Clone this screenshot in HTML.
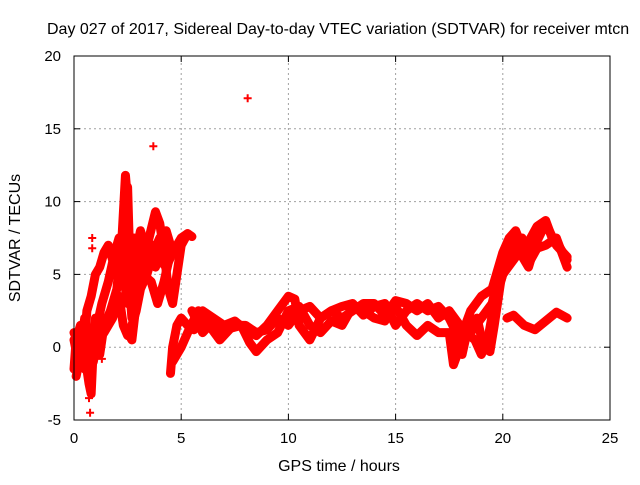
<!DOCTYPE html>
<html><head><meta charset="utf-8"><style>
body{margin:0;background:#fff;}
svg text{font-family:"Liberation Sans",sans-serif;font-size:15px;fill:#000;}
</style></head><body>
<svg id="chart" width="640" height="480">
<rect width="640" height="480" fill="#fff"/>
<text x="47" y="34" style="font-size:16px">Day 027 of 2017, Sidereal Day-to-day VTEC variation (SDTVAR) for receiver mtcn</text>
<g id="grid"></g><g id="ticks"></g><g id="data"></g>
<rect x="74" y="56" width="536" height="364" fill="none" stroke="#000" stroke-width="1"/>
<text x="339" y="471" text-anchor="middle" style="font-size:16px">GPS time / hours</text>
<text transform="translate(20,238) rotate(-90)" text-anchor="middle" style="font-size:16px">SDTVAR / TECUs</text>
</svg>
<script>
const xTicks=[0,5,10,15,20,25];
const yTicks=[-5,0,5,10,15,20];
const trackA=[[0,-1.5],[0.1,0.5],[0.3,1.5],[0.5,0.5],[0.6,2.5],[0.8,3.5],[1.0,5.0],[1.2,5.5],[1.4,6.5],[1.6,7.0],[1.8,6.0],[2.0,5.5],[2.2,6.5],[2.4,11.8],[2.5,10],[2.6,4],[2.7,2],[2.8,3],[3.0,4.5],[3.2,6],[3.5,7.5],[3.8,9.3],[4.0,8.5],[4.2,6.5],[4.4,4.0],[4.6,3.0],[4.8,5],[5.0,7],[5.3,7.8],[5.5,7.6]];
const trackB=[[0,0.5],[0.2,-1],[0.4,1],[0.6,-1.5],[0.7,-2.5],[0.8,-3.2],[0.9,0],[1.0,2],[1.2,-0.5],[1.4,1.5],[1.7,2.5],[2.0,4],[2.2,7],[2.4,9],[2.5,11],[2.6,6],[2.8,7.5],[3.2,5],[3.6,4.5],[3.9,3],[4.2,4.5],[4.5,6.5]];
const trackC=[[2.5,1],[2.7,0.5],[2.9,3],[3.2,5.5],[3.4,6.5],[3.7,7],[4.0,6],[4.3,5.5],[4.6,6.5],[5.0,7.5],[5.3,7.8]];
const trackH=[[0,1],[0.3,0],[0.5,2],[0.7,0.5],[1.0,1],[1.3,3],[1.6,4.5],[1.9,6.5],[2.1,7.5],[2.3,5],[2.5,3],[2.7,5],[2.9,6.5],[3.1,8],[3.3,7],[3.5,6],[3.8,5.5],[4.1,7],[4.4,6]];
const trackI=[[0.1,-2],[0.3,-0.5],[0.5,-1.5],[0.6,0],[0.9,-1],[1.1,0.5],[1.4,1],[1.8,2],[2.1,3.5],[2.3,1.5],[2.5,0.8],[2.7,1.5],[2.9,2.5],[3.1,4],[3.4,5],[3.7,6.5],[4.0,7.5],[4.3,8],[4.5,7]];
const trackD=[[4.5,-1.8],[4.6,0],[4.8,1.5],[5.0,2.0],[5.3,1.5],[5.6,1.2],[6.0,2.5],[6.5,2.0],[7,1.5],[7.5,1.8],[8,1.2],[8.5,0.8],[9,1.5],[9.5,2.5],[10,3.5],[10.3,3.3],[10.5,1.5],[11,0.5],[11.5,2],[12,2.5],[12.5,2.8],[13,3.0],[13.5,2.2],[14,2.8],[14.5,3.0],[15,1.5],[15.5,2.5],[16,3],[16.5,2.5],[17,2.8],[17.5,2.0],[18,0.5],[18.5,2.5],[19,3.5],[19.5,4],[20,6.5],[20.3,7.5],[20.6,8],[21,6.5],[21.3,7.5],[21.6,8.3],[22,8.7],[22.3,7.5],[22.6,7],[23,6]];
const trackE=[[4.6,-1],[5,0],[5.3,1],[5.8,2.5],[6.3,1.5],[6.8,0.5],[7.3,1.3],[7.8,1.5],[8.2,0.3],[8.5,-0.3],[9,0.5],[9.5,1],[10,2.5],[10.5,2.8],[11,1.5],[11.5,1],[12,1.8],[12.5,1.5],[13,2.8],[13.5,2.5],[14,2.0],[14.5,1.8],[15,2.8],[15.5,1.5],[16,0.8],[16.5,1.5],[17,1.0],[17.5,1.0],[17.7,-1.2],[18,0],[18.3,1.0],[18.7,0.5],[19,-0.5],[19.3,0.5],[19.6,3],[20,5],[20.5,6],[21,7],[21.3,6],[21.6,6.8],[22,7],[22.5,7.5],[23,5.5]];
const trackF=[[5.5,2.5],[6,1.0],[6.5,1.8],[7,1.0],[7.5,1.5],[8,1.5],[8.5,1.0],[9,1.2],[9.5,2],[10,1.5],[10.5,2.5],[11,2.8],[11.5,2.0],[12,2.5],[12.5,2.0],[13,2.5],[13.5,3.0],[14,3.0],[14.5,2.2],[15,3.2],[15.5,3.0],[16,2.5],[16.5,3.0],[17,2.0],[17.5,2.5],[18,1.5],[18.5,1.0],[19,2.0],[19.5,3.0],[20,6],[20.4,7.5],[20.8,6.5],[21.2,5.5],[21.5,7],[22,8.5],[22.5,7.0],[23,6.2]];
const trackJ=[[17.5,2.5],[17.8,1],[18.1,-0.5],[18.4,1.5],[18.8,2],[19.1,0],[19.4,-0.3],[19.6,1.5],[19.9,4.5],[20.2,6],[20.6,7],[20.9,7.5]];
const trackG=[[20.2,2],[20.5,2.2],[21,1.5],[21.5,1.2],[22,1.8],[22.5,2.4],[23,2.0]];
const isolated=[[8.1,17.1],[3.7,13.8],[0.75,-4.5],[0.85,7.5],[0.85,6.8],[1.3,-0.8],[0.7,-3.5]];
const tracks=[trackA,trackB,trackC,trackH,trackI,trackD,trackE,trackF,trackJ,trackG];

const X0=74,X1=610,Y0=420,Y1=56;
const sx=h=>X0+(h-0)/(25-0)*(X1-X0);
const sy=v=>Y0-(v+5)/(20+5)*(Y0-Y1);
const NS='http://www.w3.org/2000/svg';
const grid=document.getElementById('grid'),ticks=document.getElementById('ticks'),data=document.getElementById('data');
function mk(tag,attrs,parent){const e=document.createElementNS(NS,tag);for(const k in attrs)e.setAttribute(k,attrs[k]);parent.appendChild(e);return e;}
xTicks.forEach(t=>{const x=sx(t);
 if(t>0&&t<25){const g=mk('line',{x1:x,x2:x,y1:Y0,y2:Y1,stroke:'#a0a0a0','stroke-dasharray':'2,3'},grid);
 
 }
 mk('line',{x1:x,x2:x,y1:Y0,y2:Y0-6,stroke:'#000'},ticks);mk('line',{x1:x,x2:x,y1:Y1,y2:Y1+6,stroke:'#000'},ticks);
 const l=mk('text',{x:x,y:443,'text-anchor':'middle'},ticks);l.textContent=t;
 
 });
yTicks.forEach(t=>{const y=sy(t);
 if(t>-5&&t<20){const g=mk('line',{x1:X0,x2:X1,y1:y,y2:y,stroke:'#a0a0a0','stroke-dasharray':'2,3'},grid);
 
 }
 mk('line',{x1:X0,x2:X0+6,y1:y,y2:y,stroke:'#000'},ticks);mk('line',{x1:X1,x2:X1-6,y1:y,y2:y,stroke:'#000'},ticks);
 const l=mk('text',{x:61,y:y+5,'text-anchor':'end'},ticks);l.textContent=t;
 
 });
function plus(h,v){const x=sx(h),y=sy(v);
 const p=mk('path',{d:`M${x-4},${y}H${x+4}M${x},${y-4}V${y+4}`,stroke:'#f00','stroke-width':2},data);
 
 }
tracks.forEach(tr=>{
 const pl=mk('polyline',{points:tr.map(p=>sx(p[0])+','+sy(p[1])).join(' '),fill:'none',stroke:'#f00','stroke-width':9,'stroke-linejoin':'round','stroke-linecap':'round'},data);
 
 
 tr.forEach(p=>plus(p[0],p[1]));});
isolated.forEach(p=>plus(p[0],p[1]));
</script>
</body></html>
